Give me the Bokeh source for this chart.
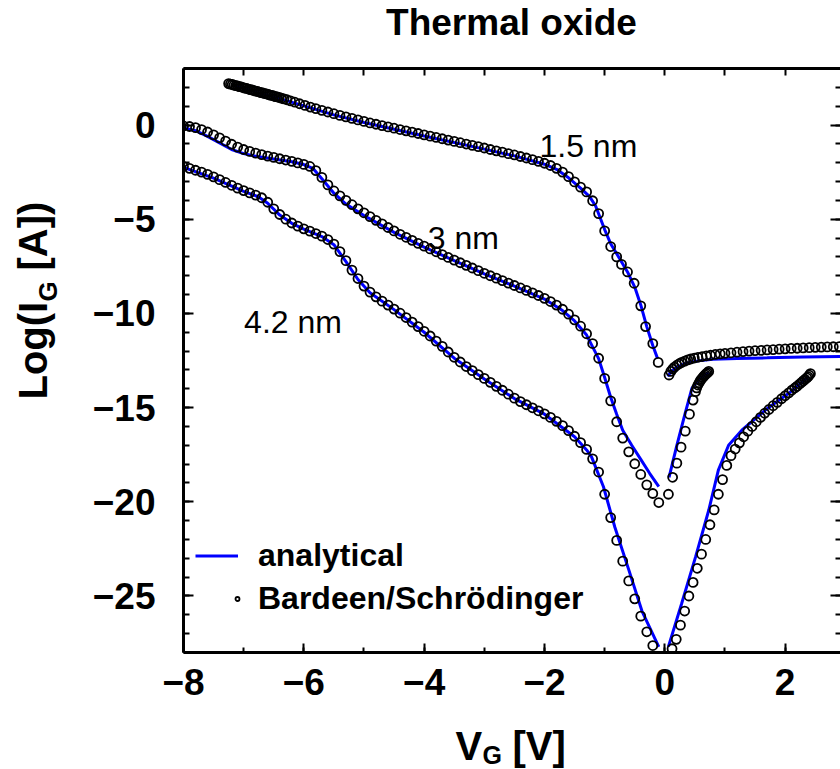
import math

from bokeh.plotting import figure
from bokeh.layouts import column, row
from bokeh.models import (Range1d, LinearAxis, SingleIntervalTicker, Label,
                          Legend, LegendItem)
from bokeh.embed import file_html
from bokeh.resources import INLINE

FONT = "Liberation Sans"

# ---------------------------------------------------------------------------
# Gate current vs gate voltage for three thermal-oxide thicknesses
# ---------------------------------------------------------------------------

# tick labels
x_tick_values = [-8, -6, -4, -2, 0, 2]
x_tick_labels = ["\u22128", "\u22126", "\u22124", "\u22122", "0", "2"]
y_tick_values = [0, -5, -10, -15, -20, -25]
y_tick_labels = ["0", "\u22125", "\u221210", "\u221215", "\u221220", "\u221225"]

# thickness annotations
thick_text = ["1.5 nm", "3 nm", "4.2 nm"]
thick_x = [-1.27, -3.35, -6.18]
thick_y = [-1.14, -6.0, -10.45]

# ---- Bardeen / Schroedinger (symbols) ----
bs_15_neg_v = [-7.25, -7.22, -7.19, -7.16, -7.13, -7.10, -7.07, -7.04, -7.01, -6.98,
               -6.95, -6.92, -6.89, -6.86, -6.83, -6.80, -6.77, -6.74, -6.71, -6.68,
               -6.65, -6.62, -6.59, -6.56, -6.53, -6.50, -6.47, -6.44, -6.41,
               -6.37, -6.33, -6.28, -6.22, -6.15, -6.07, -5.98, -5.89,
               -5.80, -5.70, -5.60, -5.50, -5.40, -5.30, -5.20, -5.10, -5.00, -4.90,
               -4.80, -4.70, -4.60, -4.50, -4.40, -4.30, -4.20, -4.10, -4.00, -3.90,
               -3.80, -3.70, -3.60, -3.50, -3.40, -3.30, -3.20, -3.10, -3.00, -2.90,
               -2.80, -2.70, -2.60, -2.50, -2.40, -2.30, -2.20, -2.10, -2.00, -1.90,
               -1.80, -1.70, -1.60, -1.50, -1.40, -1.30, -1.20, -1.10, -1.00, -0.90,
               -0.80, -0.72, -0.62, -0.51, -0.40, -0.32, -0.20, -0.11]
bs_15_neg_i = [2.20, 2.17, 2.15, 2.12, 2.09, 2.07, 2.04, 2.02, 1.99, 1.96,
               1.94, 1.91, 1.88, 1.86, 1.83, 1.80, 1.78, 1.75, 1.72, 1.70,
               1.67, 1.65, 1.62, 1.59, 1.57, 1.54, 1.51, 1.49, 1.46,
               1.42, 1.39, 1.34, 1.28, 1.21, 1.13, 1.04, 0.95,
               0.87, 0.78, 0.69, 0.60, 0.51, 0.43, 0.35, 0.27, 0.19, 0.11,
               0.04, -0.03, -0.10, -0.17, -0.24, -0.31, -0.38, -0.45, -0.52, -0.59,
               -0.66, -0.73, -0.80, -0.87, -0.94, -1.01, -1.08, -1.15, -1.22, -1.30,
               -1.37, -1.44, -1.52, -1.59, -1.67, -1.75, -1.84, -1.93, -2.03, -2.15,
               -2.30, -2.50, -2.74, -3.02, -3.30, -3.55, -4.02, -4.70, -5.62, -6.45,
               -7.00, -7.40, -7.80, -8.40, -9.60, -10.70, -11.60, -12.60]

bs_15_pos_v = [0.07, 0.10, 0.13, 0.16, 0.20, 0.24, 0.28, 0.33, 0.38, 0.43,
               0.49, 0.55, 0.62, 0.69, 0.76, 0.84, 0.92, 1.00, 1.10, 1.20,
               1.30, 1.40, 1.50, 1.60, 1.70, 1.80, 1.90, 2.00, 2.10, 2.20,
               2.30, 2.40, 2.50, 2.60, 2.70, 2.80, 2.90, 3.00]
bs_15_pos_i = [-13.27, -13.08, -12.95, -12.85, -12.75, -12.67, -12.60, -12.53, -12.47, -12.42,
               -12.37, -12.33, -12.29, -12.25, -12.22, -12.18, -12.15, -12.12, -12.09, -12.06,
               -12.03, -12.00, -11.98, -11.96, -11.94, -11.92, -11.90, -11.88, -11.86, -11.85,
               -11.83, -11.82, -11.80, -11.79, -11.78, -11.77, -11.76, -11.75]

bs_30_neg_v = [-8.0, -7.9, -7.8, -7.7, -7.6, -7.5, -7.4, -7.3, -7.2, -7.1,
               -7.0, -6.9, -6.8, -6.7, -6.6, -6.5, -6.4, -6.3, -6.2, -6.1,
               -6.0, -5.9, -5.8, -5.7, -5.6, -5.5, -5.4, -5.3, -5.2, -5.1,
               -5.0, -4.9, -4.8, -4.7, -4.6, -4.5, -4.4, -4.3, -4.2, -4.1,
               -4.0, -3.9, -3.8, -3.7, -3.6, -3.5, -3.4, -3.3, -3.2, -3.1,
               -3.0, -2.9, -2.8, -2.7, -2.6, -2.5, -2.4, -2.3, -2.2, -2.1,
               -2.0, -1.9, -1.8, -1.7, -1.6, -1.5, -1.4, -1.3, -1.2, -1.1,
               -1.0, -0.9, -0.8, -0.7, -0.6, -0.5, -0.4, -0.3, -0.2, -0.1]
bs_30_neg_i = [-0.05, -0.08, -0.14, -0.24, -0.37, -0.52, -0.68, -0.85, -1.02, -1.17,
               -1.30, -1.40, -1.49, -1.57, -1.65, -1.72, -1.79, -1.86, -1.93, -2.01,
               -2.09, -2.20, -2.42, -2.78, -3.18, -3.50, -3.76, -4.00, -4.23, -4.45,
               -4.66, -4.86, -5.06, -5.25, -5.44, -5.62, -5.80, -5.96, -6.12, -6.28,
               -6.43, -6.58, -6.73, -6.88, -7.03, -7.17, -7.31, -7.45, -7.59, -7.73,
               -7.87, -8.00, -8.13, -8.26, -8.39, -8.52, -8.65, -8.78, -8.91, -9.05,
               -9.20, -9.37, -9.56, -9.78, -10.04, -10.34, -10.68, -11.08, -11.60, -12.38,
               -13.45, -14.64, -15.75, -16.62, -17.35, -17.98, -18.55, -19.10, -19.56, -20.04]

bs_30_pos_v = [0.06, 0.13, 0.20, 0.27, 0.34, 0.41, 0.47, 0.51, 0.53, 0.55,
               0.57, 0.59, 0.61, 0.63, 0.65, 0.67, 0.69, 0.71, 0.73]
bs_30_pos_i = [-19.60, -18.70, -17.95, -17.10, -16.25, -15.35, -14.60, -14.15, -13.95, -13.80,
               -13.68, -13.57, -13.48, -13.40, -13.33, -13.26, -13.20, -13.14, -13.08]

bs_42_neg_v = [-8.0, -7.9, -7.8, -7.7, -7.6, -7.5, -7.4, -7.3, -7.2, -7.1,
               -7.0, -6.9, -6.8, -6.7, -6.6, -6.5, -6.4, -6.3, -6.2, -6.1,
               -6.0, -5.9, -5.8, -5.7, -5.6, -5.5, -5.4, -5.3, -5.2, -5.1,
               -5.0, -4.9, -4.8, -4.7, -4.6, -4.5, -4.4, -4.3, -4.2, -4.1,
               -4.0, -3.9, -3.8, -3.7, -3.6, -3.5, -3.4, -3.3, -3.2, -3.1,
               -3.0, -2.9, -2.8, -2.7, -2.6, -2.5, -2.4, -2.3, -2.2, -2.1,
               -2.0, -1.9, -1.8, -1.7, -1.6, -1.5, -1.4, -1.3, -1.2, -1.1,
               -1.0, -0.9, -0.8, -0.7, -0.6, -0.5, -0.4, -0.3, -0.2]
bs_42_neg_i = [-2.20, -2.30, -2.40, -2.50, -2.62, -2.75, -2.90, -3.05, -3.20, -3.35,
               -3.48, -3.60, -3.72, -3.86, -4.10, -4.45, -4.75, -5.00, -5.20, -5.37,
               -5.51, -5.63, -5.76, -5.90, -6.08, -6.32, -6.72, -7.20, -7.70, -8.15,
               -8.55, -8.87, -9.12, -9.35, -9.56, -9.77, -9.99, -10.22, -10.46, -10.70,
               -10.95, -11.20, -11.47, -11.75, -12.05, -12.33, -12.58, -12.82, -13.04, -13.25,
               -13.45, -13.66, -13.87, -14.08, -14.29, -14.50, -14.68, -14.85, -15.01, -15.17,
               -15.33, -15.52, -15.73, -15.96, -16.22, -16.52, -16.86, -17.22, -17.72, -18.42,
               -19.60, -20.84, -22.05, -23.15, -24.20, -25.15, -26.07, -26.90, -27.63]

bs_42_pos_v = [0.12, 0.19, 0.26, 0.33, 0.40, 0.47, 0.54, 0.61, 0.68, 0.75,
               0.82, 0.89, 0.96, 1.03, 1.10, 1.17, 1.24, 1.31, 1.38, 1.45,
               1.52, 1.59, 1.66, 1.73, 1.80, 1.87, 1.94, 2.00, 2.06, 2.11,
               2.16, 2.20, 2.24, 2.27, 2.30, 2.33, 2.36, 2.38, 2.40, 2.42]
bs_42_pos_i = [-27.80, -27.30, -26.55, -25.80, -25.00, -24.28, -23.53, -22.78, -22.00, -21.22,
               -20.43, -19.60, -18.82, -18.07, -17.55, -17.20, -16.87, -16.55, -16.25, -16.00,
               -15.75, -15.52, -15.30, -15.10, -14.90, -14.72, -14.53, -14.37, -14.22, -14.08,
               -13.96, -13.86, -13.75, -13.67, -13.58, -13.50, -13.42, -13.36, -13.28, -13.20]

# ---- analytical model (lines) ----
an_15_neg_v = [-7.2, -6.4, -5.5, -5.0, -4.0, -3.0, -2.5, -2.0, -1.8, -1.6, -1.4,
               -1.25, -1.15, -1.0, -0.9, -0.75, -0.62, -0.5, -0.4, -0.3, -0.2, -0.12]
an_15_neg_i = [2.13, 1.40, 0.54, 0.13, -0.58, -1.28, -1.64, -2.08, -2.35, -2.80, -3.35,
               -3.80, -4.30, -5.55, -6.30, -7.10, -7.80, -8.60, -9.55, -10.70, -11.70, -12.40]

an_15_pos_v = [0.05, 0.10, 0.20, 0.35, 0.55, 0.80, 1.20, 1.70, 2.30, 3.00]
an_15_pos_i = [-13.35, -13.10, -12.85, -12.65, -12.52, -12.44, -12.39, -12.36, -12.32, -12.28]

an_30_neg_v = [-8.0, -7.8, -7.6, -7.4, -7.2, -7.0, -6.8, -6.5, -6.2, -6.0, -5.85, -5.7,
               -5.5, -5.3, -5.0, -4.5, -4.0, -3.5, -3.0, -2.5, -2.0, -1.7, -1.5, -1.3,
               -1.1, -1.0, -0.9, -0.8, -0.7, -0.55, -0.4, -0.25, -0.1]
an_30_neg_i = [-0.15, -0.30, -0.60, -0.95, -1.30, -1.52, -1.66, -1.80, -1.95, -2.10, -2.30, -2.85,
               -3.62, -4.20, -4.80, -5.70, -6.48, -7.20, -7.90, -8.55, -9.24, -9.85, -10.40, -11.15,
               -12.40, -13.40, -14.45, -15.35, -16.20, -17.00, -17.75, -18.50, -19.20]

an_30_pos_v = [0.07, 0.20, 0.33, 0.45, 0.55, 0.65, 0.73]
an_30_pos_i = [-18.70, -17.00, -15.40, -13.98, -13.55, -13.30, -13.15]

an_42_neg_v = [-8.0, -7.5, -7.0, -6.75, -6.6, -6.4, -6.2, -6.0, -5.7, -5.5, -5.3, -5.1,
               -4.9, -4.5, -4.0, -3.5, -3.0, -2.5, -2.0, -1.5, -1.3, -1.22, -1.02, -0.83,
               -0.6, -0.38, -0.1]
an_42_neg_i = [-2.25, -2.82, -3.52, -3.82, -4.15, -4.78, -5.22, -5.53, -5.92, -6.35, -7.25, -8.20,
               -8.90, -9.80, -11.00, -12.38, -13.48, -14.52, -15.35, -16.55, -17.25, -17.60, -19.20, -21.35,
               -23.60, -25.80, -27.70]

an_42_pos_v = [0.06, 0.28, 0.51, 0.73, 0.89, 1.06, 1.28, 1.67, 2.06, 2.39]
an_42_pos_i = [-27.69, -25.40, -22.94, -20.45, -18.32, -17.00, -16.20, -15.13, -14.24, -13.36]

# ---------------------------------------------------------------------------
# page layout: title strip / (y-title strip | plot) / x-title strip
TOP_H, PLOT_H, BOT_H = 60, 652, 57
LEFT_W, PLOT_W = 64, 776


def text_strip(w, h):
    """A bare canvas (no axes, no grid) holding axis titles or the chart title."""
    f = figure(width=w, height=h, x_range=Range1d(0, 1), y_range=Range1d(0, 1),
               output_backend="svg", toolbar_location=None, title=None,
               x_axis_location=None, y_axis_location=None, min_border=0)
    f.grid.visible = False
    f.outline_line_color = None
    f.background_fill_color = "white"
    f.border_fill_color = "white"
    return f


def add_text(fig, x, y, text, size, angle=0.0, style="bold", align="left"):
    fig.add_layout(Label(x=x, y=y, x_units="screen", y_units="screen", text=text,
                         angle=angle, text_align=align, text_baseline="middle",
                         text_font=FONT, text_font_style=style,
                         text_font_size=size, text_color="black"))


p = figure(width=PLOT_W, height=PLOT_H,
           x_range=Range1d(-8, 2.92), y_range=Range1d(-28, 3),
           output_backend="svg", toolbar_location=None, title=None,
           min_border_left=119, min_border_right=0,
           min_border_top=8, min_border_bottom=60)
p.xgrid.visible = False
p.ygrid.visible = False
p.outline_line_color = None
p.background_fill_color = "white"
p.border_fill_color = "white"


def style_axis(ax, major_in, minor_in, show_labels=True, standoff=0):
    ax.axis_line_width = 3
    ax.axis_line_color = "black"
    ax.major_tick_in = major_in
    ax.major_tick_out = 0
    ax.minor_tick_in = minor_in
    ax.minor_tick_out = 0
    ax.major_tick_line_width = 2
    ax.minor_tick_line_width = 2
    ax.major_label_standoff = standoff
    if show_labels:
        ax.major_label_text_font = FONT
        ax.major_label_text_font_style = "bold"
        ax.major_label_text_font_size = "37px"
        ax.major_label_text_color = "black"
    else:
        ax.major_label_text_font_size = "0px"
        ax.major_label_text_color = None


xb = p.xaxis[0]
xb.ticker = SingleIntervalTicker(interval=2, num_minor_ticks=2)
xb.major_label_overrides = dict(zip(x_tick_values, x_tick_labels))
style_axis(xb, 9, 5, True, 16)

yl = p.yaxis[0]
yl.ticker = SingleIntervalTicker(interval=5, num_minor_ticks=5)
yl.major_label_overrides = dict(zip(y_tick_values, y_tick_labels))
style_axis(yl, 10, 6, True, 28)

xt = LinearAxis(ticker=SingleIntervalTicker(interval=1, num_minor_ticks=0))
style_axis(xt, 7, 0, False)
p.add_layout(xt, "above")

yr = LinearAxis(ticker=SingleIntervalTicker(interval=5, num_minor_ticks=5))
style_axis(yr, 10, 5, False)
yr.axis_line_color = None
p.add_layout(yr, "right")

# analytical curves underneath the symbols
BLUE = "#0000ff"
line_kw = dict(line_color=BLUE, line_width=3)
r_an = p.line(an_15_neg_v, an_15_neg_i, **line_kw)
p.line(an_15_pos_v, an_15_pos_i, **line_kw)
p.line(an_30_neg_v, an_30_neg_i, **line_kw)
p.line(an_30_pos_v, an_30_pos_i, **line_kw)
p.line(an_42_neg_v, an_42_neg_i, **line_kw)
p.line(an_42_pos_v, an_42_pos_i, **line_kw)

sym_kw = dict(marker="circle", size=9, line_color="black", line_width=1.8, fill_color=None)
r_bs = p.scatter(bs_15_neg_v, bs_15_neg_i, **sym_kw)
p.scatter(bs_15_pos_v, bs_15_pos_i, **sym_kw)
p.scatter(bs_30_neg_v, bs_30_neg_i, **sym_kw)
p.scatter(bs_30_pos_v, bs_30_pos_i, **sym_kw)
p.scatter(bs_42_neg_v, bs_42_neg_i, **sym_kw)
p.scatter(bs_42_pos_v, bs_42_pos_i, **sym_kw)

# thickness labels
for t, x, y in zip(thick_text, thick_x, thick_y):
    p.add_layout(Label(x=x, y=y, text=t, text_align="center", text_baseline="middle",
                       text_font=FONT, text_font_size="32px", text_color="black"))

# legend: line sample row, then a symbol row whose circle sits at the line's right end
legend_kw = dict(orientation="vertical", glyph_height=43, label_height=43, spacing=0,
                 padding=0, margin=0, label_text_font=FONT,
                 label_text_font_style="bold", label_text_font_size="32px",
                 label_text_color="black", border_line_color=None,
                 background_fill_alpha=0)
leg_line = Legend(items=[LegendItem(label="analytical", renderers=[r_an])],
                  location=(12, 75), glyph_width=43, label_standoff=20, **legend_kw)
leg_sym = Legend(items=[LegendItem(label="Bardeen/Schr\u00f6dinger", renderers=[r_bs])],
                 location=(49, 32), glyph_width=10, label_standoff=16, **legend_kw)
p.add_layout(leg_line, "center")
p.add_layout(leg_sym, "center")

# chart title
top = text_strip(LEFT_W + PLOT_W, TOP_H)
add_text(top, 511, 38, "Thermal oxide", "37px", align="center")

# y axis title: Log(I_G [A]) , read bottom to top
side = text_strip(LEFT_W, PLOT_H)
add_text(side, 32, 253, "Log(I", "40px", angle=math.pi / 2)
add_text(side, 47, 351, "G", "26px", angle=math.pi / 2)
add_text(side, 32, 382, "[A])", "40px", angle=math.pi / 2)

# x axis title: V_G [V]
bottom = text_strip(LEFT_W + PLOT_W, BOT_H)
add_text(bottom, 455, 24, "V", "40px")
add_text(bottom, 482, 15, "G", "25px")
add_text(bottom, 512, 24, "[V]", "40px")

page = column(top, row(side, p, spacing=0), bottom, spacing=0)

open("out.html", "w").write(file_html(page, INLINE))
